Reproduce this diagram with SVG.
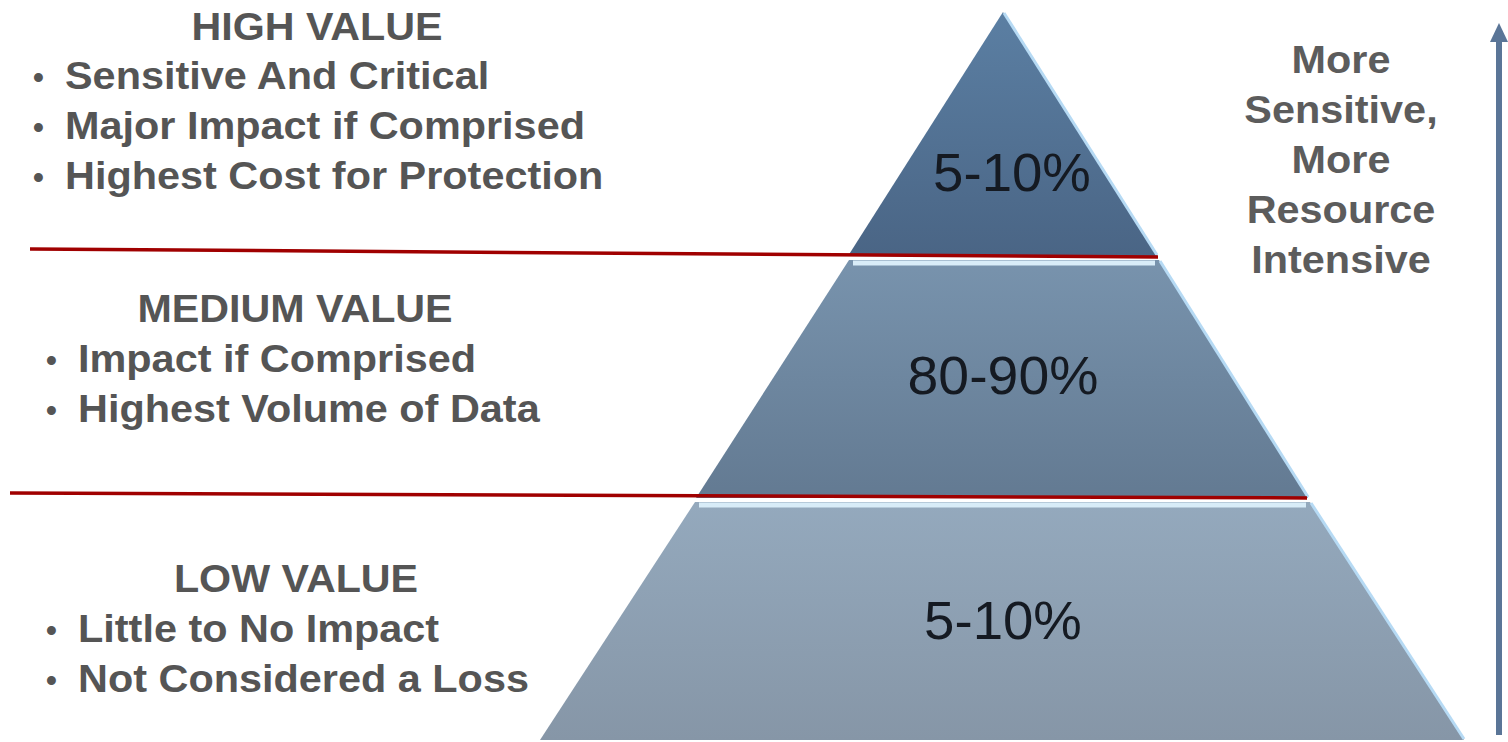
<svg xmlns="http://www.w3.org/2000/svg" width="1508" height="742" viewBox="0 0 1508 742">
  <style>
    .lbl { font-family: "Liberation Sans", Arial, sans-serif; font-weight: bold; fill: #555555; font-size: 38px; }
    .dot { font-family: "Liberation Sans", Arial, sans-serif; font-weight: bold; fill: #555555; font-size: 31px; }
    .head { text-anchor: middle; }
    .pct { font-family: "Liberation Sans", Arial, sans-serif; font-size: 53px; fill: #151a22; text-anchor: middle; }
    .side { font-family: "Liberation Sans", Arial, sans-serif; font-weight: bold; fill: #5c5c5c; font-size: 38px; text-anchor: middle; }
    .divider { stroke: #a00000; stroke-width: 3.5; fill: none; }
    .edge { stroke: #b6daf4; stroke-width: 3; fill: none; }
    .bevel { stroke: #d8ecf8; stroke-width: 5; fill: none; }
  </style>
  <defs>
    <linearGradient id="gTop" x1="0" y1="0" x2="0" y2="1">
      <stop offset="0" stop-color="#5b7fa3"/>
      <stop offset="1" stop-color="#4a6585"/>
    </linearGradient>
    <linearGradient id="gMid" x1="0" y1="0" x2="0" y2="1">
      <stop offset="0" stop-color="#7893ad"/>
      <stop offset="1" stop-color="#637a92"/>
    </linearGradient>
    <linearGradient id="gLow" x1="0" y1="0" x2="0" y2="1">
      <stop offset="0" stop-color="#94a9bd"/>
      <stop offset="1" stop-color="#8696a7"/>
    </linearGradient>
  </defs>

  <rect width="1508" height="742" fill="#ffffff"/>

  <!-- pyramid tiers; labels are widened slightly with a horizontal scale -->
  <g id="tier-high">
    <path d="M1003,12 L1157,256 L848,256 Z" fill="url(#gTop)"/>
    <path class="edge" d="M1004,13 L1157,255"/>
    <text class="pct" transform="translate(1012,191) scale(1.03,1)">5-10%</text>
  </g>
  <g id="tier-medium">
    <path d="M849,260 L1159,260 L1308,498 L696,498 Z" fill="url(#gMid)"/>
    <path class="bevel" d="M853,263 L1155,263"/>
    <path class="edge" d="M1160,261 L1308,497"/>
    <text class="pct" transform="translate(1003,394) scale(1.045,1)">80-90%</text>
  </g>
  <g id="tier-low">
    <path d="M695,502 L1310,502 L1464,740 L540,740 Z" fill="url(#gLow)"/>
    <path class="bevel" d="M699,505 L1306,505"/>
    <path class="edge" d="M1311,503 L1464,739"/>
    <text class="pct" transform="translate(1003,639) scale(1.03,1)">5-10%</text>
  </g>

  <!-- tier descriptions -->
  <g id="desc-high">
    <text class="lbl head" transform="translate(317,40) scale(1.085,1)">HIGH VALUE</text>
    <text class="dot" x="33" y="88">•</text>
    <text class="lbl" transform="translate(65,89) scale(1.09,1)">Sensitive And Critical</text>
    <text class="dot" x="33" y="138">•</text>
    <text class="lbl" transform="translate(65,139) scale(1.09,1)">Major Impact if Comprised</text>
    <text class="dot" x="33" y="188">•</text>
    <text class="lbl" transform="translate(65,189) scale(1.09,1)">Highest Cost for Protection</text>
  </g>
  <g id="desc-medium">
    <text class="lbl head" transform="translate(295,322) scale(1.085,1)">MEDIUM VALUE</text>
    <text class="dot" x="46" y="371">•</text>
    <text class="lbl" transform="translate(78,372) scale(1.09,1)">Impact if Comprised</text>
    <text class="dot" x="46" y="421">•</text>
    <text class="lbl" transform="translate(78,422) scale(1.09,1)">Highest Volume of Data</text>
  </g>
  <g id="desc-low">
    <text class="lbl head" transform="translate(296,592) scale(1.085,1)">LOW VALUE</text>
    <text class="dot" x="46" y="641">•</text>
    <text class="lbl" transform="translate(78,642) scale(1.09,1)">Little to No Impact</text>
    <text class="dot" x="46" y="691">•</text>
    <text class="lbl" transform="translate(78,692) scale(1.09,1)">Not Considered a Loss</text>
  </g>

  <!-- side note -->
  <g id="side-note">
    <text class="side" transform="translate(1341,73) scale(1.09,1)">More</text>
    <text class="side" transform="translate(1341,123) scale(1.09,1)">Sensitive,</text>
    <text class="side" transform="translate(1341,173) scale(1.09,1)">More</text>
    <text class="side" transform="translate(1341,223) scale(1.09,1)">Resource</text>
    <text class="side" transform="translate(1341,273) scale(1.09,1)">Intensive</text>
  </g>

  <!-- dividers and scale arrow -->
  <g id="connectors">
    <path class="divider" d="M30,249 L1158,257"/>
    <path class="divider" d="M10,493 L1307,498"/>
    <line x1="1499" y1="735" x2="1499" y2="38" stroke="#5a7597" stroke-width="6"/>
    <path d="M1490,42 L1499,23 L1508,42 Z" fill="#5a7597"/>
  </g>
</svg>
